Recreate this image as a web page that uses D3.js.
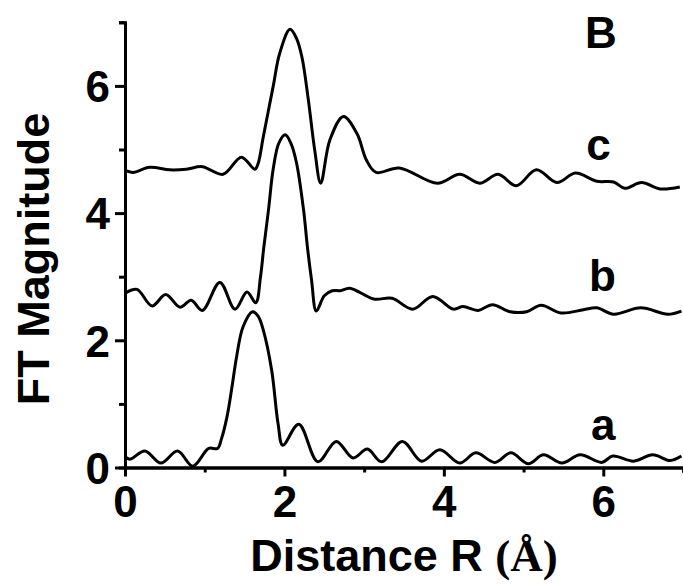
<!DOCTYPE html>
<html>
<head>
<meta charset="utf-8">
<script src="https://cdn.jsdelivr.net/npm/d3@7"></script>
<style>
  body { margin: 0; background: #fff; }
  svg { display: block; }
  text { font-family: "Liberation Sans", Arial, sans-serif; font-weight: bold; }
</style>
</head>
<body>
<svg width="683" height="584"></svg>
<script>
// FT magnitude traces: [R, |FT|]
const seriesA = [
  [0.00, 0.17], [0.06, 0.13], [0.25, 0.26], [0.45, 0.07], [0.66, 0.26], [0.85, 0.02],
  [1.05, 0.30], [1.16, 0.30], [1.21, 0.45], [1.28, 0.80], [1.34, 1.25], [1.40, 1.74],
  [1.48, 2.21], [1.60, 2.45], [1.67, 2.38], [1.735, 2.16], [1.84, 1.53], [1.92, 0.69],
  [1.98, 0.35], [2.18, 0.68], [2.42, 0.09], [2.65, 0.41], [2.86, 0.15], [3.04, 0.29],
  [3.22, 0.09], [3.48, 0.41], [3.72, 0.10], [3.95, 0.28], [4.20, 0.07], [4.40, 0.23],
  [4.64, 0.08], [4.84, 0.23], [5.06, 0.06], [5.25, 0.20], [5.48, 0.07], [5.71, 0.20],
  [5.98, 0.08], [6.12, 0.18], [6.38, 0.10], [6.62, 0.20], [6.84, 0.11], [6.98, 0.18]
];
const seriesB = [
  [0.00, 2.74], [0.15, 2.80], [0.34, 2.54], [0.51, 2.72], [0.69, 2.52], [0.83, 2.63],
  [0.97, 2.47], [1.19, 2.91], [1.38, 2.49], [1.53, 2.76], [1.64, 2.59], [1.70, 3.00],
  [1.74, 3.45], [1.80, 4.05], [1.86, 4.70], [1.93, 5.10], [2.01, 5.23], [2.08, 5.10],
  [2.15, 4.80], [2.24, 4.05], [2.29, 3.45], [2.34, 2.95], [2.40, 2.46], [2.50, 2.70],
  [2.60, 2.78], [2.70, 2.78], [2.82, 2.82], [3.12, 2.65], [3.35, 2.66], [3.61, 2.49],
  [3.86, 2.69], [4.12, 2.49], [4.24, 2.53], [4.43, 2.47], [4.61, 2.56], [4.83, 2.45],
  [5.04, 2.45], [5.22, 2.55], [5.47, 2.43], [5.75, 2.48], [5.92, 2.51], [6.13, 2.41],
  [6.47, 2.51], [6.81, 2.41], [6.98, 2.46]
];
const seriesC = [
  [0.00, 4.67], [0.10, 4.64], [0.31, 4.72], [0.56, 4.68], [0.77, 4.69], [0.97, 4.73],
  [1.23, 4.61], [1.46, 4.88], [1.63, 4.69], [1.67, 4.78], [1.735, 5.20], [1.86, 6.00],
  [1.94, 6.51], [2.07, 6.89], [2.15, 6.75], [2.22, 6.45], [2.30, 5.78], [2.38, 4.99],
  [2.455, 4.47], [2.57, 5.15], [2.74, 5.52], [2.91, 5.25], [3.03, 4.83], [3.15, 4.64],
  [3.44, 4.71], [3.92, 4.47], [4.20, 4.61], [4.45, 4.47], [4.68, 4.61], [4.91, 4.43],
  [5.16, 4.68], [5.42, 4.48], [5.65, 4.63], [5.92, 4.50], [6.13, 4.49], [6.27, 4.39],
  [6.48, 4.48], [6.71, 4.38], [6.96, 4.41]
];

// curve labels + panel letter, in data units
const labels = [
  { text: "B", x: 5.97, y: 6.60 },
  { text: "c", x: 5.94, y: 4.83 },
  { text: "b", x: 5.99, y: 2.78 },
  { text: "a", x: 6.00, y: 0.43 }
];

const xMajor = [0, 2, 4, 6];
const xMinor = [1, 3, 5, 7];
const yMajor = [0, 2, 4, 6];
const yMinor = [1, 3, 5, 7];

const svg = d3.select("svg");
const fontSize = 44;

const x = d3.scaleLinear().domain([0, 7]).range([125, 683]);
const y = d3.scaleLinear().domain([0, 7]).range([467.5, 22.3]);

// minor ticks first, then major axes with labels
svg.append("g")
    .attr("transform", `translate(0,${y(0)})`)
    .call(d3.axisBottom(x).tickValues(xMinor).tickSize(5).tickFormat(""));
svg.append("g")
    .attr("transform", `translate(${x(0)},0)`)
    .call(d3.axisLeft(y).tickValues(yMinor).tickSize(6).tickFormat(""));

const xAxis = svg.append("g")
    .attr("transform", `translate(0,${y(0)})`)
    .call(d3.axisBottom(x).tickValues(xMajor).tickSize(9).tickSizeOuter(0).tickPadding(9).tickFormat(d3.format("d")));
const yAxis = svg.append("g")
    .attr("transform", `translate(${x(0)},0)`)
    .call(d3.axisLeft(y).tickValues(yMajor).tickSize(10).tickSizeOuter(0).tickPadding(5).tickFormat(d3.format("d")));

svg.selectAll(".domain, .tick line")
    .attr("stroke", "#000")
    .attr("stroke-width", 3);
svg.selectAll(".tick text")
    .attr("font-size", fontSize)
    .attr("font-family", "'Liberation Sans', Arial, sans-serif")
    .attr("font-weight", "bold")
    .attr("fill", "#000");
yAxis.selectAll(".tick text").attr("dy", "0.36em");

// axis titles
const xt = svg.append("text")
    .attr("x", (x(0) + x(7)) / 2)
    .attr("y", 571)
    .attr("text-anchor", "middle")
    .attr("font-size", 45);
xt.append("tspan").text("Distance R ");
xt.append("tspan").attr("font-family", "'Liberation Serif', 'Times New Roman', serif").text("(Å)");

svg.append("text")
    .attr("transform", `translate(49,${(110 + 408) / 2}) rotate(-90)`)
    .attr("text-anchor", "middle")
    .attr("font-size", 45)
    .text("FT Magnitude");

// traces
const line = d3.line()
    .x(d => x(d[0]))
    .y(d => y(d[1]))
    .curve(d3.curveCatmullRom.alpha(0.5));

svg.append("g")
    .selectAll("path")
    .data([seriesA, seriesB, seriesC])
    .join("path")
    .attr("d", line)
    .attr("fill", "none")
    .attr("stroke", "#000")
    .attr("stroke-width", 3)
    .attr("stroke-linejoin", "round");

svg.append("g")
    .selectAll("text")
    .data(labels)
    .join("text")
    .attr("x", d => x(d.x))
    .attr("y", d => y(d.y))
    .attr("text-anchor", "middle")
    .attr("font-size", fontSize)
    .text(d => d.text);
</script>
</body>
</html>
